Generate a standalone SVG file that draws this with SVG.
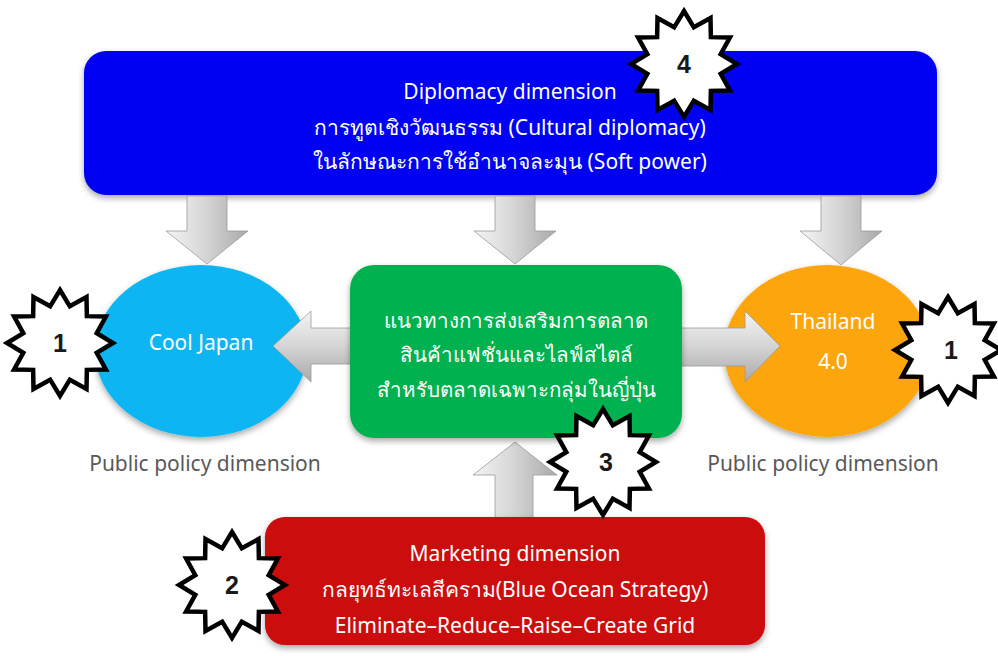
<svg xmlns="http://www.w3.org/2000/svg" xmlns:xlink="http://www.w3.org/1999/xlink" width="998" height="656" viewBox="0 0 998 656">
<style>
.t{font-family:"Noto Sans","Liberation Sans","DejaVu Sans",sans-serif;font-size:21px;fill:#ffffff;text-anchor:middle}
.g{font-size:20.5px}
.lbl{font-family:"Noto Sans","Liberation Sans","DejaVu Sans",sans-serif;font-size:21px;fill:#595959;text-anchor:middle}
.num{font-family:"Liberation Sans","Noto Sans",sans-serif;font-size:25px;font-weight:bold;fill:#1a1a1a;text-anchor:middle}
.star{fill:#ffffff;stroke:#000000;stroke-width:4.5;stroke-linejoin:miter}
.arw{stroke:#9a9a9a;stroke-width:0.8}
</style>
<defs>
<filter id="sh" x="-10%" y="-10%" width="120%" height="130%">
<feDropShadow dx="0" dy="3" stdDeviation="3" flood-color="#000" flood-opacity="0.35"/>
</filter>
<linearGradient id="gv" x1="0" y1="0" x2="1" y2="0">
<stop offset="0" stop-color="#f4f4f4"/>
<stop offset="0.5" stop-color="#d4d4d4"/>
<stop offset="1" stop-color="#a9a9a9"/>
</linearGradient>
<linearGradient id="gh" x1="0" y1="0" x2="0" y2="1">
<stop offset="0" stop-color="#f4f4f4"/>
<stop offset="0.5" stop-color="#d4d4d4"/>
<stop offset="1" stop-color="#a9a9a9"/>
</linearGradient>
<polygon id="star" points="0,-53 9.83,-36.71 26.5,-45.9 26.87,-26.87 45.9,-26.5 36.71,-9.83 53,0 36.71,9.83 45.9,26.5 26.87,26.87 26.5,45.9 9.83,36.71 0,53 -9.83,36.71 -26.5,45.9 -26.87,26.87 -45.9,26.5 -36.71,9.83 -53,0 -36.71,-9.83 -45.9,-26.5 -26.87,-26.87 -26.5,-45.9 -9.83,-36.71"/>
</defs>
<rect width="998" height="656" fill="#ffffff"/>

<g id="diplomacy">
<rect x="84" y="51" width="853" height="144" rx="22" fill="#0505f2" filter="url(#sh)"/>
<text class="t" x="510" y="99">Diplomacy dimension</text>
<text class="t" x="510" y="135">การทูตเชิงวัฒนธรรม (Cultural diplomacy)</text>
<text class="t" x="510" y="169">ในลักษณะการใช้อำนาจละมุน (Soft power)</text>
</g>

<g id="cool-japan">
<ellipse cx="201" cy="351" rx="106" ry="86" fill="#0bb5f2" filter="url(#sh)"/>
<text class="t" x="201" y="350">Cool Japan</text>
</g>

<g id="thailand">
<ellipse cx="827" cy="351" rx="103" ry="86" fill="#fda50d" filter="url(#sh)"/>
<text class="t" x="833" y="329">Thailand</text>
<text class="t" x="833" y="369">4.0</text>
</g>

<g id="connectors">
<path class="arw" fill="url(#gv)" d="M187,196 H227 V231 H248 L207,264 L166,231 H187 Z"/>
<path class="arw" fill="url(#gv)" d="M495,196 H535 V231 H556 L515,264 L474,231 H495 Z"/>
<path class="arw" fill="url(#gv)" d="M821,196 H861 V231 H882 L841,265 L800,231 H821 Z"/>
<path class="arw" fill="url(#gh)" d="M355,328 V364 H311 V382 L273,346 L311,311 V328 Z"/>
<path class="arw" fill="url(#gh)" d="M678,328 V366 H745 V382 L780,346 L745,311 V328 Z"/>
<path class="arw" fill="url(#gv)" d="M495,520 V475 H473 L515,442 L557,475 H533 V520 Z"/>
</g>

<g id="marketing-guideline">
<rect x="350" y="265" width="332" height="173" rx="24" fill="#05b14f" filter="url(#sh)"/>
<text class="t g" x="516" y="328">แนวทางการส่งเสริมการตลาด</text>
<text class="t g" x="516" y="362">สินค้าแฟชั่นและไลฟ์สไตล์</text>
<text class="t g" x="516" y="397">สำหรับตลาดเฉพาะกลุ่มในญี่ปุ่น</text>
</g>

<g id="marketing">
<rect x="265" y="517" width="500" height="128" rx="20" fill="#cb0808" filter="url(#sh)"/>
<text class="t" x="515" y="561">Marketing dimension</text>
<text class="t" x="515" y="597">กลยุทธ์ทะเลสีคราม(Blue Ocean Strategy)</text>
<text class="t" x="515" y="633">Eliminate–Reduce–Raise–Create Grid</text>
</g>

<g id="label-left">
<text class="lbl" x="205" y="471">Public policy dimension</text>
</g>
<g id="label-right">
<text class="lbl" x="823" y="471">Public policy dimension</text>
</g>

<g id="star-4">
<use xlink:href="#star" class="star" x="684" y="64"/>
<text class="num" x="684" y="73">4</text>
</g>
<g id="star-1-left">
<use xlink:href="#star" class="star" x="60" y="343"/>
<text class="num" x="60" y="352">1</text>
</g>
<g id="star-1-right">
<use xlink:href="#star" class="star" x="948" y="350"/>
<text class="num" x="951" y="359">1</text>
</g>
<g id="star-3">
<use xlink:href="#star" class="star" x="603" y="462"/>
<text class="num" x="606" y="471">3</text>
</g>
<g id="star-2">
<use xlink:href="#star" class="star" x="232" y="585"/>
<text class="num" x="232" y="594">2</text>
</g>
</svg>
